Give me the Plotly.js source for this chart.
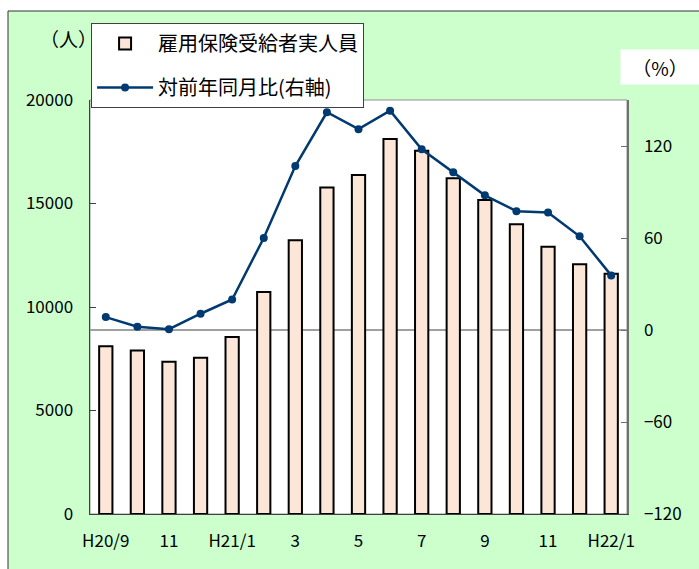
<!DOCTYPE html>
<html>
<head>
<meta charset="utf-8">
<script src="https://cdn.plot.ly/plotly-3.0.1.min.js"></script>
<style>html,body{margin:0;padding:0;background:#fff;}#chart{width:699px;height:569px;}</style>
</head>
<body>
<div id="chart"></div>
<script>
var categories = ["H20/9","H20/10","H20/11","H20/12","H21/1","H21/2","H21/3","H21/4","H21/5","H21/6","H21/7","H21/8","H21/9","H21/10","H21/11","H21/12","H22/1"];
var recipients = [8100, 7900, 7350, 7550, 8550, 10720, 13230, 15770, 16380, 18120, 17550, 16220, 15170, 14000, 12910, 12060, 11610];
var yoyChange = [8.4, 2.1, 0.5, 10.6, 19.9, 60, 106.9, 142, 131, 143, 117.8, 102.8, 87.8, 77.5, 76.6, 61.1, 35.6];
var tickCats = ["H20/9","H20/11","H21/1","H21/3","H21/5","H21/7","H21/9","H21/11","H22/1"];
var tickLabels = ["H20/9","11","H21/1","3","5","7","9","11","H22/1"];
var leftTicks = [0, 5000, 10000, 15000, 20000];
var rightTicks = [-120, -60, 0, 60, 120];

var FONT = "Noto Sans CJK JP, Noto Sans, sans-serif";

var traces = [
  {
    type: "bar", x: categories, y: recipients, name: "雇用保険受給者実人員",
    width: 0.42, legendgroup: "a",
    marker: {color: "#FCE6D8", line: {color: "#000000", width: 2}},
    hoverinfo: "x+y"
  },
  {
    type: "scatter", mode: "lines+markers", x: categories, y: yoyChange, yaxis: "y2",
    name: "対前年同月比(右軸)", legendgroup: "b",
    line: {color: "#003A70", width: 2.5},
    marker: {color: "#003A70", size: 8}
  }
];

var layout = {
  width: 699, height: 569,
  margin: {l: 90, r: 72, t: 100, b: 55},
  paper_bgcolor: "#ffffff",
  plot_bgcolor: "rgba(0,0,0,0)",
  font: {family: FONT, size: 17, color: "#000"},
  showlegend: true,
  legend: {
    x: 0.002, y: 1.186, xanchor: "left", yanchor: "top",
    bgcolor: "#ffffff", bordercolor: "#404040", borderwidth: 1,
    font: {family: FONT, size: 20, color: "#000"},
    traceorder: "grouped", tracegroupgap: 15, itemwidth: 56
  },
  xaxis: {
    type: "category", range: [-0.5, 16.5],
    tickvals: tickCats, ticktext: tickLabels,
    ticks: "", showgrid: false, zeroline: false,
    showline: true, linecolor: "#404040", linewidth: 1,
    ticklabelstandoff: 12,
    tickfont: {family: FONT, size: 17, color: "#000"}
  },
  yaxis: {
    range: [0, 20000], tickvals: leftTicks, ticktext: leftTicks.map(String),
    ticks: "inside", ticklen: 6, tickcolor: "#404040",
    showgrid: false, zeroline: false,
    showline: true, linecolor: "#404040", linewidth: 1.5,
    ticklabelstandoff: 12,
    tickfont: {family: FONT, size: 17, color: "#000"}
  },
  yaxis2: {
    overlaying: "y", side: "right", range: [-120, 150],
    tickvals: rightTicks,
    ticks: "inside", ticklen: 6, tickcolor: "#707070",
    showgrid: false, zeroline: true, zerolinecolor: "#A0A0A0", zerolinewidth: 1.5,
    showline: true, linecolor: "#707070", linewidth: 1.5,
    ticklabelstandoff: 12,
    tickfont: {family: FONT, size: 17, color: "#000"}
  },
  shapes: [
    {type: "rect", xref: "paper", yref: "paper", layer: "below",
     x0: (8 - 90) / 537, x1: 1.25, y0: -0.2, y1: (514 - 11) / 414,
     fillcolor: "#CCFFCC", line: {color: "#303030", width: 1}},
    {type: "rect", xref: "paper", yref: "paper", layer: "below",
     x0: 0, x1: 1, y0: 0, y1: 1,
     fillcolor: "#ffffff", line: {color: "#909090", width: 1}}
  ],
  annotations: [
    {xref: "paper", yref: "paper", x: (68 - 90) / 537, y: (514 - 38) / 414,
     xanchor: "center", yanchor: "middle",
     text: "（人）", showarrow: false, font: {family: FONT, size: 19, color: "#000"}},
    {xref: "paper", yref: "paper", x: (660 - 90) / 537, y: (514 - 67) / 414,
     xanchor: "center", yanchor: "middle",
     text: "（%）", showarrow: false, bgcolor: "#ffffff", width: 76, height: 32,
     font: {family: FONT, size: 19, color: "#000"}}
  ]
};

Plotly.newPlot("chart", traces, layout, {displayModeBar: false, staticPlot: true});
</script>
</body>
</html>
